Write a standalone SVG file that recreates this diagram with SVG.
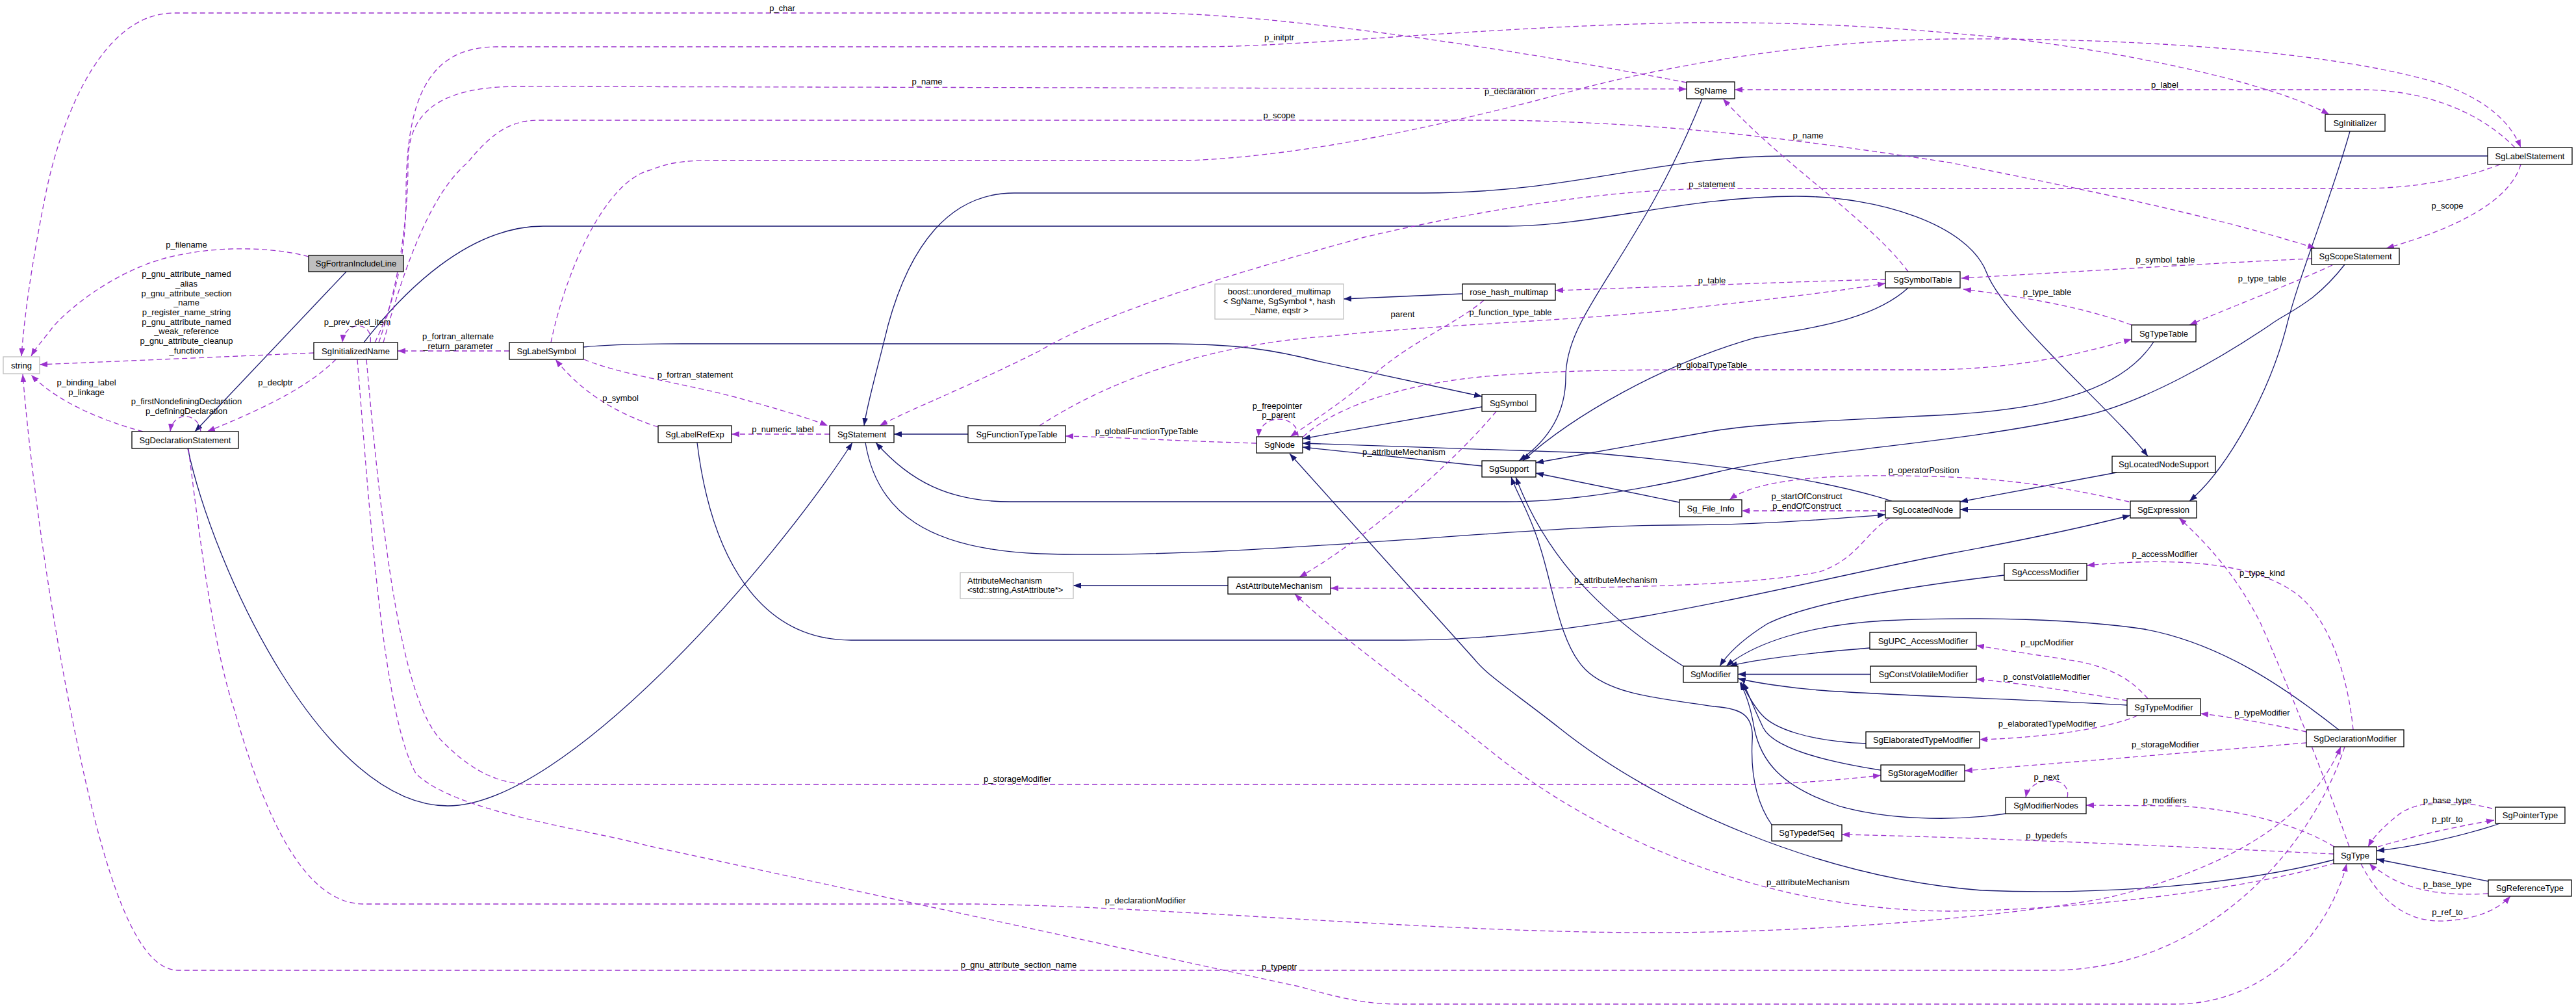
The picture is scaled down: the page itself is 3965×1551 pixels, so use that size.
<svg xmlns="http://www.w3.org/2000/svg" width="3965" height="1551" viewBox="0 0 3965 1551">
<defs>
<style>
.node rect{fill:#fff;stroke:#000;stroke-width:1.3}
.ext rect{fill:#fff;stroke:#bfbfbf;stroke-width:1.3}
.cur rect{fill:#bfbfbf;stroke:#000;stroke-width:1.3}
text{font-family:"Liberation Sans",Arial,Helvetica,sans-serif;font-size:13px;fill:#000}
.c{text-anchor:middle}
.inh{fill:none;stroke:#191970;stroke-width:1.3;marker-end:url(#ai)}
.use{fill:none;stroke:#9a32cd;stroke-width:1.3;stroke-dasharray:8,5;marker-end:url(#au)}
</style>
<marker id="ai" markerUnits="userSpaceOnUse" markerWidth="12" markerHeight="9" refX="12" refY="4.5" orient="auto"><path d="M0,0L12,4.5L0,9z" fill="#191970"/></marker>
<marker id="au" markerUnits="userSpaceOnUse" markerWidth="12" markerHeight="9" refX="12" refY="4.5" orient="auto"><path d="M0,0L12,4.5L0,9z" fill="#9a32cd"/></marker>
</defs>
<rect width="3965" height="1551" fill="#fff"/>
<g id="connectors">
<g id="inheritance">
<path class="inh" d="M533,418 L300,664"/>
<path class="inh" d="M289,690 C330,880 500,1240 689,1240 C870,1240 1190,870 1312,681"/>
<path class="inh" d="M560,527 C620,450 720,348 836,348 L2319,348 C2450,348 2600,302 2765,302 C2890,302 3030,345 3058,420 C3085,490 3255,635 3306,702"/>
<path class="inh" d="M3829,240 L2750,240 C2550,240 2420,297 2191,297 L1561,297 C1460,297 1400,380 1367,500 C1350,570 1335,620 1330,655"/>
<path class="inh" d="M898,534 C940,530 980,529 1050,529 L1797,529 C1900,529 1960,538 2030,556 L2281,610"/>
<path class="inh" d="M2281,626 L2005,675"/>
<path class="inh" d="M2281,717 L2005,688"/>
<path class="inh" d="M2912,771 C2800,735 2620,712 2450,697 L2005,682"/>
<path class="inh" d="M1332,681 C1350,790 1430,845 1600,852 C1900,862 2350,808 2574,808 C2700,808 2800,800 2902,792"/>
<path class="inh" d="M3609,407 C3560,470 3520,480 3494,500 C3420,550 3300,620 3207,640 C3000,685 2800,690 2640,727 C2500,760 2400,772 2319,772 L1555,772 C1460,772 1400,740 1348,681"/>
<path class="inh" d="M3279,784 L3017,784"/>
<path class="inh" d="M3258,727 L3017,772"/>
<path class="inh" d="M3617,202 C3590,300 3540,420 3520,500 C3495,600 3430,720 3370,771"/>
<path class="inh" d="M1073,681 C1095,860 1170,985 1310,985 L2160,985 C2450,985 2750,900 3000,852 C3120,830 3220,808 3279,793"/>
<path class="inh" d="M1490,668 L1376,668"/>
<path class="inh" d="M3315,526 C3270,595 3170,628 3000,638 C2850,646 2720,650 2638,663 L2364,712"/>
<path class="inh" d="M2937,443 C2880,495 2780,505 2700,520 C2560,560 2420,640 2344,709"/>
<path class="inh" d="M2620,152 C2520,400 2410,480 2410,580 C2410,640 2380,680 2338,709"/>
<path class="inh" d="M2585,773 L2364,728"/>
<path class="inh" d="M2591,1025 C2470,950 2380,860 2333,734"/>
<path class="inh" d="M2727,1269 C2700,1230 2695,1180 2697,1140 C2700,1100 2680,1090 2638,1087 C2560,1075 2480,1070 2440,1030 C2400,990 2390,900 2370,840 C2355,790 2335,760 2326,734"/>
<path class="inh" d="M3087,1252 C3000,1265 2900,1260 2830,1240 C2740,1210 2710,1170 2700,1120 C2695,1090 2688,1068 2678,1050"/>
<path class="inh" d="M3592,1323 C3450,1360 3250,1378 3050,1370 C2800,1350 2550,1240 2400,1120 C2330,1065 2290,1040 2270,1015 L1985,698"/>
<path class="inh" d="M2879,1037.5 L2675,1037.5"/>
<path class="inh" d="M3274,1085 C3100,1075 2900,1070 2800,1062 C2750,1058 2700,1050 2675,1044"/>
<path class="inh" d="M3085,885 C3000,895 2800,920 2720,960 C2680,985 2660,1005 2647,1025"/>
<path class="inh" d="M2878,997 C2780,1005 2700,1015 2662,1025"/>
<path class="inh" d="M3600,1123 C3520,1060 3420,990 3300,968 C3200,953 3050,948 2900,955 C2780,962 2700,990 2657,1025"/>
<path class="inh" d="M2872,1144 C2780,1140 2730,1120 2712,1100 C2698,1085 2688,1065 2680,1050"/>
<path class="inh" d="M2895,1185 C2800,1170 2730,1150 2714,1120 C2702,1095 2692,1070 2683,1050"/>
<path class="inh" d="M3848,1267 C3780,1290 3700,1305 3658,1309"/>
<path class="inh" d="M3830,1356 L3658,1322"/>
<path class="inh" d="M2251,452 L2068,460"/>
<path class="inh" d="M1890,901 L1652,901"/>
</g>
<g id="usage">
<path class="use" d="M2596,127 C2300,70 1950,20 1765,20 L268,20 C150,20 90,200 70,300 C50,400 38,480 33,548"/>
<path class="use" d="M475,395 C430,382 340,375 255,397 C170,420 100,480 80,505 C65,525 55,535 48,548"/>
<path class="use" d="M483,543 L61,561"/>
<path class="use" d="M220,664 C160,648 90,620 48,577"/>
<path class="use" d="M309,664 C306,634 266,632 262,664"/>
<path class="use" d="M517,553 C470,600 390,635 319,664"/>
<path class="use" d="M570,527 C575,493 530,493 527,527"/>
<path class="use" d="M784,540 L612,540"/>
<path class="use" d="M1013,657 C960,640 900,610 855,553"/>
<path class="use" d="M899,553 C950,575 1050,590 1128,610 C1200,630 1250,645 1274,655"/>
<path class="use" d="M1277,668 L1126,668"/>
<path class="use" d="M1934,682 C1800,678 1700,672 1640,671"/>
<path class="use" d="M1998,672 C1998,636 1940,636 1937,672"/>
<path class="use" d="M2284,462 C2240,500 2160,530 2100,590 C2050,630 2010,655 1986,672"/>
<path class="use" d="M2006,672 C2050,630 2150,590 2300,578 C2400,570 2500,569 2600,569 L2965,569 C3100,569 3200,545 3281,522"/>
<path class="use" d="M1600,655 C1700,590 1850,530 2050,517 C2200,500 2400,495 2574,477 C2700,463 2820,450 2902,436"/>
<path class="use" d="M2902,430 C2800,432 2600,440 2394,447"/>
<path class="use" d="M3848,253 C3780,280 3700,290 3635,290 L2638,290 C2450,292 2250,330 2100,365 C1900,420 1700,480 1600,540 C1480,600 1400,630 1354,655"/>
<path class="use" d="M577,527 C605,470 625,400 625,300 C625,150 660,72 765,72 L1850,72 C2000,72 2300,40 2600,35 C2800,33 2950,45 3100,60 C3300,85 3500,130 3585,176"/>
<path class="use" d="M583,527 C610,450 628,350 628,250 C628,170 680,133 800,133 L2596,137"/>
<path class="use" d="M590,527 C620,420 660,300 720,250 C760,200 790,185 830,185 L2319,185 C2600,190 2800,220 3000,250 C3200,290 3400,330 3564,382"/>
<path class="use" d="M848,527 C870,420 930,280 1000,262 C1030,250 1050,247 1100,247 L1829,247 C2000,240 2200,200 2446,133 C2600,95 2800,62 3000,60 C3300,58 3600,80 3760,130 C3830,155 3865,190 3880,227"/>
<path class="use" d="M3871,227 C3820,175 3740,140 3640,138 L2670,138"/>
<path class="use" d="M3880,253 C3860,320 3750,360 3673,382"/>
<path class="use" d="M3558,398 C3400,405 3200,418 3019,428"/>
<path class="use" d="M3590,408 C3520,440 3440,470 3370,500"/>
<path class="use" d="M3281,500 C3200,470 3100,455 3022,445"/>
<path class="use" d="M2937,418 C2880,340 2740,250 2652,152"/>
<path class="use" d="M2303,633 C2230,720 2100,830 2000,888"/>
<path class="use" d="M2909,797 C2870,820 2860,860 2800,880 C2650,910 2300,905 2048,905"/>
<path class="use" d="M3594,1328 C3450,1370 3200,1400 3000,1402 C2700,1400 2450,1280 2300,1160 C2150,1040 2050,970 1993,914"/>
<path class="use" d="M290,690 C310,850 330,1000 360,1090 C400,1230 460,1391 560,1391 L1500,1391 C1800,1395 2200,1435 2542,1435 C2800,1435 3100,1410 3250,1380 C3450,1330 3560,1250 3603,1149"/>
<path class="use" d="M3609,1149 C3560,1300 3400,1493 3156,1493 L274,1493 C200,1493 150,1300 110,1100 C70,900 45,700 35,576"/>
<path class="use" d="M550,553 C570,800 590,1100 640,1190 C700,1250 900,1275 1000,1302 L2000,1518 C2060,1535 2100,1545 2153,1545 L3348,1545 C3500,1545 3590,1420 3612,1329"/>
<path class="use" d="M564,553 C590,850 620,1080 680,1140 C720,1180 760,1207 820,1207 L2700,1207 C2780,1205 2850,1198 2895,1193"/>
<path class="use" d="M3550,1143 L3024,1186"/>
<path class="use" d="M3550,1126 C3500,1115 3440,1104 3387,1098"/>
<path class="use" d="M3622,1123 C3615,1050 3590,960 3539,917 C3480,870 3370,855 3212,870"/>
<path class="use" d="M3616,1303 C3580,1200 3520,1050 3480,960 C3440,880 3390,830 3354,797"/>
<path class="use" d="M3274,1078 C3200,1065 3100,1050 3042,1045"/>
<path class="use" d="M3306,1075 C3280,1045 3250,1028 3200,1018 C3140,1008 3080,1000 3042,993"/>
<path class="use" d="M3290,1101 C3250,1120 3150,1135 3047,1138"/>
<path class="use" d="M3182,1227 C3190,1192 3125,1192 3118,1227"/>
<path class="use" d="M3593,1303 C3540,1270 3450,1245 3350,1240 L3211,1239"/>
<path class="use" d="M3592,1314 C3400,1305 3100,1290 2835,1284"/>
<path class="use" d="M3836,1244 C3780,1230 3720,1230 3690,1255 C3665,1275 3652,1290 3645,1303"/>
<path class="use" d="M3660,1303 C3720,1285 3790,1270 3839,1262"/>
<path class="use" d="M3830,1375 C3750,1380 3700,1365 3670,1345 C3660,1338 3652,1334 3647,1329"/>
<path class="use" d="M3634,1329 C3660,1380 3700,1420 3762,1417 C3810,1415 3845,1400 3864,1379"/>
<path class="use" d="M2902,786 L2681,786"/>
<path class="use" d="M3277,772 C3200,755 3100,735 2965,733 C2800,728 2700,740 2662,769"/>
</g>
<g id="edge-labels" class="c">
<text x="1204" y="17">p_char</text>
<text x="287" y="381">p_filename</text>
<text x="287" y="425.5">p_gnu_attribute_named</text>
<text x="287" y="440.5">_alias</text>
<text x="287" y="455.5">p_gnu_attribute_section</text>
<text x="287" y="469.5">_name</text>
<text x="287" y="484.5">p_register_name_string</text>
<text x="287" y="499.5">p_gnu_attribute_named</text>
<text x="287" y="513.5">_weak_reference</text>
<text x="287" y="528.5">p_gnu_attribute_cleanup</text>
<text x="287" y="543.5">_function</text>
<text x="133" y="592.5">p_binding_label</text>
<text x="133" y="607.5">p_linkage</text>
<text x="287" y="621.5">p_firstNondefiningDeclaration</text>
<text x="287" y="636.5">p_definingDeclaration</text>
<text x="424" y="592.5">p_declptr</text>
<text x="550" y="499.5">p_prev_decl_item</text>
<text x="705" y="521.5">p_fortran_alternate</text>
<text x="705" y="536.5">_return_parameter</text>
<text x="955" y="616.5">p_symbol</text>
<text x="1070" y="580.5">p_fortran_statement</text>
<text x="1205" y="664.5">p_numeric_label</text>
<text x="1765" y="667.5">p_globalFunctionTypeTable</text>
<text x="1966" y="628.5">p_freepointer</text>
<text x="1968" y="642.5">p_parent</text>
<text x="2159" y="487.5">parent</text>
<text x="2325" y="484.5">p_function_type_table</text>
<text x="2635" y="435.5">p_table</text>
<text x="2635" y="287.5">p_statement</text>
<text x="1427" y="129.5">p_name</text>
<text x="2324" y="144.5">p_declaration</text>
<text x="2783" y="212.5">p_name</text>
<text x="1969" y="61.5">p_initptr</text>
<text x="1969" y="181.5">p_scope</text>
<text x="3332" y="134.5">p_label</text>
<text x="3767" y="320.5">p_scope</text>
<text x="3333" y="403.5">p_symbol_table</text>
<text x="3482" y="432.5">p_type_table</text>
<text x="3151" y="453.5">p_type_table</text>
<text x="2635" y="565.5">p_globalTypeTable</text>
<text x="2161" y="699.5">p_attributeMechanism</text>
<text x="2487" y="896.5">p_attributeMechanism</text>
<text x="2783" y="1361.5">p_attributeMechanism</text>
<text x="2781" y="767.5">p_startOfConstruct</text>
<text x="2781" y="782.5">p_endOfConstruct</text>
<text x="2961" y="727.5">p_operatorPosition</text>
<text x="3332" y="856.5">p_accessModifier</text>
<text x="3482" y="885.5">p_type_kind</text>
<text x="3151" y="992.5">p_upcModifier</text>
<text x="3150" y="1045.5">p_constVolatileModifier</text>
<text x="3482" y="1100.5">p_typeModifier</text>
<text x="3151" y="1117.5">p_elaboratedTypeModifier</text>
<text x="3333" y="1149.5">p_storageModifier</text>
<text x="3150" y="1199.5">p_next</text>
<text x="3332" y="1235.5">p_modifiers</text>
<text x="3150" y="1289.5">p_typedefs</text>
<text x="3767" y="1235.5">p_base_type</text>
<text x="3767" y="1264.5">p_ptr_to</text>
<text x="3767" y="1364.5">p_base_type</text>
<text x="3767" y="1407.5">p_ref_to</text>
<text x="1566" y="1202.5">p_storageModifier</text>
<text x="1763" y="1389.5">p_declarationModifier</text>
<text x="1568" y="1488.5">p_gnu_attribute_section_name</text>
<text x="1969" y="1491.5">p_typeptr</text>
</g>
</g>
<g id="nodes">
<g id="SgFortranIncludeLine" class="cur"><rect x="475" y="393" width="146" height="25"/><text class="c" x="548" y="410">SgFortranIncludeLine</text></g>
<g id="string" class="ext"><rect x="5" y="549" width="56" height="26"/><text class="c" x="33" y="566.5">string</text></g>
<g id="SgInitializedName" class="node"><rect x="483" y="527" width="129" height="26"/><text class="c" x="547.5" y="544.5">SgInitializedName</text></g>
<g id="SgLabelSymbol" class="node"><rect x="784" y="527" width="114" height="26"/><text class="c" x="841" y="544.5">SgLabelSymbol</text></g>
<g id="SgDeclarationStatement" class="node"><rect x="203" y="664" width="164" height="26"/><text class="c" x="285" y="681.5">SgDeclarationStatement</text></g>
<g id="SgLabelRefExp" class="node"><rect x="1013" y="655" width="113" height="26"/><text class="c" x="1069.5" y="672.5">SgLabelRefExp</text></g>
<g id="SgStatement" class="node"><rect x="1277" y="655" width="99" height="26"/><text class="c" x="1326.5" y="672.5">SgStatement</text></g>
<g id="SgFunctionTypeTable" class="node"><rect x="1490" y="655" width="150" height="26"/><text class="c" x="1565" y="672.5">SgFunctionTypeTable</text></g>
<g id="SgNode" class="node"><rect x="1934" y="672" width="71" height="25"/><text class="c" x="1969.5" y="689">SgNode</text></g>
<g id="AttributeMechanism" class="ext"><rect x="1478" y="881" width="174" height="40"/><text x="1489" y="897.5">AttributeMechanism</text><text x="1489" y="911.5">&lt;std::string,AstAttribute*&gt;</text></g>
<g id="AstAttributeMechanism" class="node"><rect x="1890" y="888" width="158" height="26"/><text class="c" x="1969" y="905.5">AstAttributeMechanism</text></g>
<g id="SgSymbol" class="node"><rect x="2281" y="607" width="83" height="26"/><text class="c" x="2322.5" y="624.5">SgSymbol</text></g>
<g id="SgSupport" class="node"><rect x="2281" y="709" width="83" height="25"/><text class="c" x="2322.5" y="726">SgSupport</text></g>
<g id="Sg_File_Info" class="node"><rect x="2585" y="769" width="96" height="26"/><text class="c" x="2633" y="786.5">Sg_File_Info</text></g>
<g id="SgLocatedNode" class="node"><rect x="2902" y="771" width="115" height="26"/><text class="c" x="2959.5" y="788.5">SgLocatedNode</text></g>
<g id="SgUPC_AccessModifier" class="node"><rect x="2878" y="973" width="164" height="26"/><text class="c" x="2960" y="990.5">SgUPC_AccessModifier</text></g>
<g id="SgTypeTable" class="node"><rect x="3281" y="500" width="99" height="26"/><text class="c" x="3330.5" y="517.5">SgTypeTable</text></g>
<g id="SgLocatedNodeSupport" class="node"><rect x="3251" y="702" width="159" height="25"/><text class="c" x="3330.5" y="719">SgLocatedNodeSupport</text></g>
<g id="SgExpression" class="node"><rect x="3279" y="771" width="102" height="26"/><text class="c" x="3330" y="788.5">SgExpression</text></g>
<g id="SgAccessModifier" class="node"><rect x="3085" y="867" width="127" height="26"/><text class="c" x="3148.5" y="884.5">SgAccessModifier</text></g>
<g id="SgName" class="node"><rect x="2596" y="126" width="74" height="26"/><text class="c" x="2633" y="143.5">SgName</text></g>
<g id="boost_unordered_multimap" class="ext"><rect x="1870" y="437" width="198" height="54"/><text class="c" x="1969" y="453">boost::unordered_multimap</text><text class="c" x="1969" y="467.5">&lt; SgName, SgSymbol *, hash</text><text class="c" x="1969" y="482">_Name, eqstr &gt;</text></g>
<g id="rose_hash_multimap" class="node"><rect x="2251" y="437" width="143" height="25"/><text class="c" x="2322.5" y="454">rose_hash_multimap</text></g>
<g id="SgSymbolTable" class="node"><rect x="2902" y="418" width="115" height="25"/><text class="c" x="2959.5" y="435">SgSymbolTable</text></g>
<g id="SgInitializer" class="node"><rect x="3579" y="176" width="92" height="26"/><text class="c" x="3625" y="193.5">SgInitializer</text></g>
<g id="SgLabelStatement" class="node"><rect x="3829" y="227" width="130" height="26"/><text class="c" x="3894" y="244.5">SgLabelStatement</text></g>
<g id="SgScopeStatement" class="node"><rect x="3558" y="382" width="135" height="25"/><text class="c" x="3625.5" y="399">SgScopeStatement</text></g>
<g id="SgModifier" class="node"><rect x="2591" y="1025" width="84" height="25"/><text class="c" x="2633" y="1042">SgModifier</text></g>
<g id="SgConstVolatileModifier" class="node"><rect x="2879" y="1025" width="163" height="25"/><text class="c" x="2960.5" y="1042">SgConstVolatileModifier</text></g>
<g id="SgElaboratedTypeModifier" class="node"><rect x="2872" y="1126" width="175" height="25"/><text class="c" x="2959.5" y="1143">SgElaboratedTypeModifier</text></g>
<g id="SgStorageModifier" class="node"><rect x="2895" y="1177" width="129" height="25"/><text class="c" x="2959.5" y="1194">SgStorageModifier</text></g>
<g id="SgTypedefSeq" class="node"><rect x="2727" y="1269" width="108" height="25"/><text class="c" x="2781" y="1286">SgTypedefSeq</text></g>
<g id="SgTypeModifier" class="node"><rect x="3274" y="1075" width="113" height="26"/><text class="c" x="3330.5" y="1092.5">SgTypeModifier</text></g>
<g id="SgDeclarationModifier" class="node"><rect x="3550" y="1123" width="150" height="26"/><text class="c" x="3625" y="1140.5">SgDeclarationModifier</text></g>
<g id="SgModifierNodes" class="node"><rect x="3087" y="1227" width="124" height="25"/><text class="c" x="3149" y="1244">SgModifierNodes</text></g>
<g id="SgPointerType" class="node"><rect x="3841" y="1242" width="107" height="25"/><text class="c" x="3894.5" y="1259">SgPointerType</text></g>
<g id="SgType" class="node"><rect x="3592" y="1303" width="66" height="26"/><text class="c" x="3625" y="1320.5">SgType</text></g>
<g id="SgReferenceType" class="node"><rect x="3830" y="1354" width="128" height="25"/><text class="c" x="3894" y="1371">SgReferenceType</text></g>
</g>
</svg>
